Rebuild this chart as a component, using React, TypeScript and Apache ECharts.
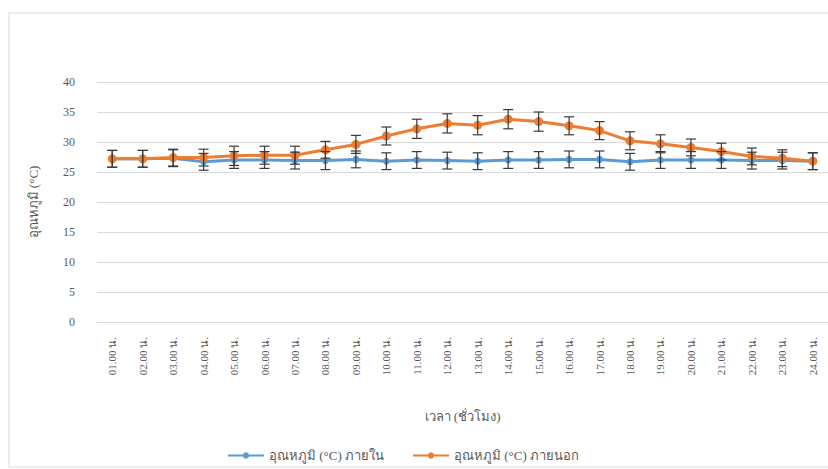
import React, { useEffect, useRef } from "react";
import * as echarts from "echarts";

const hours = ["01.00 น.","02.00 น.","03.00 น.","04.00 น.","05.00 น.","06.00 น.","07.00 น.","08.00 น.","09.00 น.","10.00 น.","11.00 น.","12.00 น.","13.00 น.","14.00 น.","15.00 น.","16.00 น.","17.00 น.","18.00 น.","19.00 น.","20.00 น.","21.00 น.","22.00 น.","23.00 น.","24.00 น."];
const insideTemp = [27.2,27.2,27.3,26.7,27.0,27.0,26.9,26.9,27.1,26.8,27.0,26.9,26.8,27.0,27.0,27.1,27.1,26.7,27.0,27.0,27.0,26.9,26.9,26.8];
const insideErr = [1.4,1.4,1.4,1.4,1.4,1.4,1.4,1.5,1.4,1.4,1.4,1.4,1.4,1.4,1.4,1.4,1.4,1.4,1.4,1.4,1.4,1.4,1.4,1.4];
const outsideTemp = [27.2,27.2,27.4,27.4,27.7,27.8,27.8,28.7,29.6,31.0,32.2,33.1,32.8,33.8,33.4,32.7,31.9,30.2,29.7,29.1,28.4,27.6,27.3,26.8];
const outsideErr = [1.4,1.4,1.4,1.4,1.6,1.5,1.5,1.4,1.5,1.5,1.6,1.6,1.6,1.6,1.6,1.5,1.5,1.5,1.5,1.4,1.4,1.4,1.4,1.4];
const yTicks = { min: 0, max: 40, interval: 5 };
const seriesNames = ["อุณหภูมิ (°C) ภายใน", "อุณหภูมิ (°C) ภายนอก"];
const xName = "เวลา (ชั่วโมง)";
const yName = "อุณหภูมิ (°C)";

const FONT = "'Liberation Serif', 'Noto Sans', serif";

function errorSeries(means: number[], errs: number[]) {
  return {
    type: "custom",
    silent: true,
    z: 5,
    data: means.map((m, i) => [i, m - errs[i], m + errs[i]]),
    renderItem: (params: any, api: any) => {
      const x = api.value(0);
      const lo = api.coord([x, api.value(1)]);
      const hi = api.coord([x, api.value(2)]);
      const w = 5;
      const style = { stroke: "#3a3a3a", lineWidth: 1.2 };
      return {
        type: "group",
        children: [
          { type: "line", shape: { x1: lo[0], y1: lo[1], x2: hi[0], y2: hi[1] }, style },
          { type: "line", shape: { x1: lo[0] - w, y1: lo[1], x2: lo[0] + w, y2: lo[1] }, style },
          { type: "line", shape: { x1: hi[0] - w, y1: hi[1], x2: hi[0] + w, y2: hi[1] }, style },
        ],
      };
    },
  };
}

export default function App() {
  const ref = useRef<HTMLDivElement>(null);
  useEffect(() => {
    if (!ref.current) return;
    const chart = echarts.init(ref.current, undefined, { renderer: "svg" });
    chart.setOption({
      animation: false,
      backgroundColor: "#ffffff",
      graphic: [
        {
          type: "rect",
          shape: { x: 9, y: 13, width: 840, height: 454 },
          style: { fill: "none", stroke: "#d9d9d9", lineWidth: 1 },
          silent: true,
        },
      ],
      grid: { left: 97, right: -2, top: 82, bottom: 147 },
      legend: {
        data: seriesNames,
        top: 444,
        left: 222,
        itemWidth: 36,
        itemHeight: 8,
        itemGap: 28,
        textStyle: { fontFamily: FONT, fontSize: 13, color: "#595959" },
      },
      xAxis: {
        type: "category",
        data: hours,
        boundaryGap: true,
        name: xName,
        nameLocation: "middle",
        nameGap: 88,
        nameTextStyle: { fontFamily: FONT, fontSize: 13, color: "#595959" },
        axisLine: { show: true, lineStyle: { color: "#d9d9d9" } },
        axisTick: { show: false },
        axisLabel: { rotate: 90, fontFamily: FONT, fontSize: 11, color: "#595959", margin: 15, interval: 0 },
      },
      yAxis: {
        type: "value",
        min: yTicks.min,
        max: yTicks.max,
        interval: yTicks.interval,
        name: yName,
        nameLocation: "middle",
        nameGap: 57,
        nameTextStyle: { fontFamily: FONT, fontSize: 13, color: "#595959" },
        axisLine: { show: false },
        axisTick: { show: false },
        axisLabel: { fontFamily: FONT, fontSize: 12, color: "#595959", margin: 22 },
        splitLine: { lineStyle: { color: "#d9d9d9", width: 1 } },
      },
      series: [
        {
          name: seriesNames[0],
          type: "line",
          data: insideTemp,
          color: "#5B9BD5",
          lineStyle: { width: 3, color: "#5B9BD5" },
          symbol: "circle",
          symbolSize: 7,
          itemStyle: { color: "#5B9BD5" },
          z: 3,
        },
        {
          name: seriesNames[1],
          type: "line",
          data: outsideTemp,
          color: "#ED7D31",
          lineStyle: { width: 3, color: "#ED7D31" },
          symbol: "circle",
          symbolSize: 9,
          itemStyle: { color: "#ED7D31" },
          z: 4,
        },
        errorSeries(insideTemp, insideErr),
        errorSeries(outsideTemp, outsideErr),
      ],
    });
    return () => chart.dispose();
  }, []);
  return (
    <div
      ref={ref}
      style={{ position: "absolute", left: 0, top: 0, width: 828, height: 469, overflow: "hidden" }}
    />
  );
}
